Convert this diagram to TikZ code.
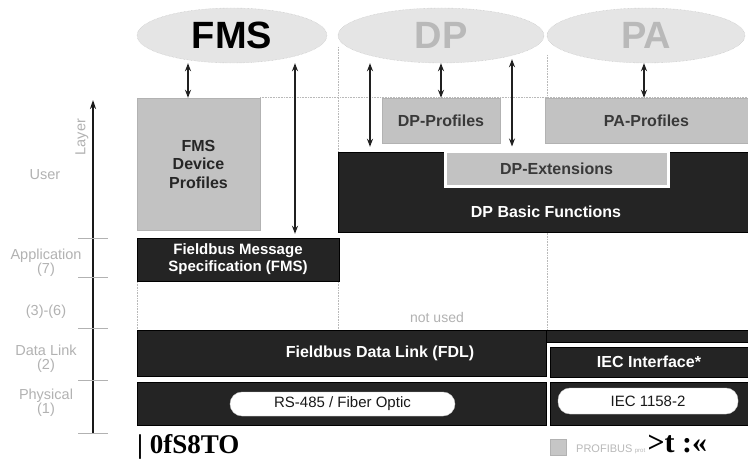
\documentclass[tikz,border=0pt]{standalone}
\usepackage{fontspec}
\setmainfont{Liberation Sans}
\newfontfamily\serifbf{Liberation Serif}
\usetikzlibrary{arrows.meta,shapes.geometric}

\definecolor{boxdark}{gray}{0.14}
\definecolor{boxlight}{gray}{0.76}
\definecolor{cloudgray}{gray}{0.9}

\begin{document}
\begin{tikzpicture}[x=1pt,y=-1pt,
    cloud/.style={ellipse, fill=cloudgray, draw=gray!55, densely dotted, inner sep=0pt, font=\bfseries\fontsize{38}{40}\selectfont},
    darkbox/.style={rectangle, fill=boxdark, draw=black, inner sep=0pt, text=white, align=center, font=\bfseries\fontsize{16}{17}\selectfont},
    boxlabel/.style={text=white, inner sep=0pt, font=\bfseries\fontsize{16}{17}\selectfont},
    lightbox/.style={rectangle, fill=boxlight, draw=gray!60, inner sep=0pt, align=center, text=gray!45!black, font=\bfseries\fontsize{16}{18.5}\selectfont},
    pill/.style={rectangle, rounded corners=12pt, fill=white, draw=gray!40, inner sep=0pt, text=gray!20!black, font=\fontsize{15}{16}\selectfont},
    layertext/.style={align=center, text=gray!60, font=\fontsize{14.5}{14}\selectfont},
    dbl/.style={{Stealth[length=8pt,width=6pt]}-{Stealth[length=8pt,width=6pt]}, line width=1.2pt, gray!25!black},
    sepline/.style={gray!55, densely dotted, line width=0.6pt}]

    \useasboundingbox (0,0) rectangle (748,460);
    \fill[white] (0,0) rectangle (748,460);

    % separators
    \draw[sepline] (260,97) -- (748,97);
    \draw[sepline] (338,47) -- (338,152);
    \draw[sepline] (338,282) -- (338,330);
    \draw[sepline] (547,55) -- (547,98);
    \draw[sepline] (547,231) -- (547,330);
    \draw[sepline] (137,282) -- (137,330);

    \node[cloud, minimum width=190, minimum height=55] (fms) at (232,35.5) {FMS};
    \node[cloud, minimum width=206, minimum height=55, text=gray!55] (dp) at (441,35.5) {DP};
    \node[cloud, minimum width=198, minimum height=55, text=gray!55] (pa) at (646,35.5) {PA};

    % user layer
    \node[lightbox, minimum width=123, minimum height=132, text=gray!30!black] (fmsdev) at (198.5,164) {FMS\\Device\\Profiles};
    \node[darkbox, minimum width=410, minimum height=80] (dpbasic) at (543,192) {};
    \node[boxlabel] (dpbasiclbl) at (546,212) {DP Basic Functions};
    \node[lightbox, minimum width=118, minimum height=45] (dpprof) at (441,120.5) {DP-Profiles};
    \node[lightbox, minimum width=203, minimum height=45] (paprof) at (646.5,120.5) {PA-Profiles};
    \node[lightbox, draw=white, line width=3pt, minimum width=223, minimum height=35] (dpext) at (556.5,168.5) {DP-Extensions};

    % application, data link, physical
    \node[darkbox, minimum width=202, minimum height=43, font=\bfseries\fontsize{15}{17}\selectfont] (fmsapp) at (238,259.5) {Fieldbus Message\\Specification (FMS)};
    \node[text=gray!60, font=\fontsize{14}{15}\selectfont] (notused) at (437,317) {not used};
    \node[darkbox, minimum width=409, minimum height=46] (fdl) at (341.5,353) {};
    \node[boxlabel] (fdllbl) at (380,353) {Fieldbus Data Link (FDL)};
    \node[darkbox, minimum width=202, minimum height=12] (fdlstrip) at (647,336) {};
    \node[darkbox, minimum width=198, minimum height=30] (iec) at (649,362) {IEC Interface*};
    \node[darkbox, minimum width=409, minimum height=43] (phys) at (341.5,403.5) {};
    \node[darkbox, minimum width=198, minimum height=43] (physiec) at (649,403.5) {};
    \node[pill, minimum width=225, minimum height=24] (rs) at (342.5,404) {RS-485 / Fiber Optic};
    \node[pill, minimum width=180, minimum height=26] (iecpill) at (648,401) {IEC 1158-2};

    % arrows
    \coordinate (x1) at (188,0);
    \coordinate (x2) at (295,0);
    \coordinate (x3) at (370,0);
    \coordinate (x5) at (512,0);
    \coordinate (x6) at (644,0);
    \draw[dbl] (x1 |- fms.south) -- (x1 |- fmsdev.north);
    \draw[dbl, shorten >=4pt] (x2 |- fms.south) -- (x2 |- fmsapp.north);
    \draw[dbl, shorten >=5pt] (x3 |- dp.south) -- (x3 |- dpbasic.north);
    \draw[dbl] (dp.south) -- (dpprof.north);
    \draw[dbl, shorten >=3pt, shorten <=-4pt] (x5 |- dp.south) -- (x5 |- dpext.north);
    \draw[dbl] (x6 |- pa.south) -- (x6 |- paprof.north);

    % layer axis
    \coordinate (axbot) at (93,433);
    \coordinate (axtop) at (93,100);
    \draw[-{Stealth[length=9pt,width=6pt]}, line width=1.6pt, gray!20!black] (axbot) -- (axtop);
    \foreach \ty in {238,277,328,380,433}
        \draw[gray!60, line width=0.8pt] (78,\ty) -- (108,\ty);
    \node[layertext, rotate=90] (layer) at (82,137) {Layer};

    \node[layertext] (user) at (45,175) {User};
    \node[layertext] (appl) at (46,263) {Application\\(7)};
    \node[layertext] (mid) at (46,312) {(3)-(6)};
    \node[layertext] (dlink) at (46,359) {Data Link\\(2)};
    \node[layertext] (phy) at (46,403) {Physical\\(1)};

    % footer
    \node[anchor=base west, inner sep=0pt, font=\serifbf\bfseries\fontsize{27}{29}\selectfont] (ref) at (137,453) {| 0fS8TO};
    \node[fill=gray!45, draw=gray!60, minimum size=16, inner sep=0pt] (logo) at (558,447) {};
    \node[anchor=base west, inner sep=0pt, text=gray!55, font=\fontsize{11}{12}\selectfont] (pbtext) at (576,452) {PROFIBUS};
    \node[anchor=base west, inner sep=2pt, text=gray!55, font=\fontsize{6}{7}\selectfont] (prot) at (pbtext.base east) {prot};
    \node[anchor=base west, inner sep=0pt, font=\serifbf\bfseries\fontsize{30}{32}\selectfont] (mark) at (prot.base east) {>t :«};
\end{tikzpicture}
\end{document}
